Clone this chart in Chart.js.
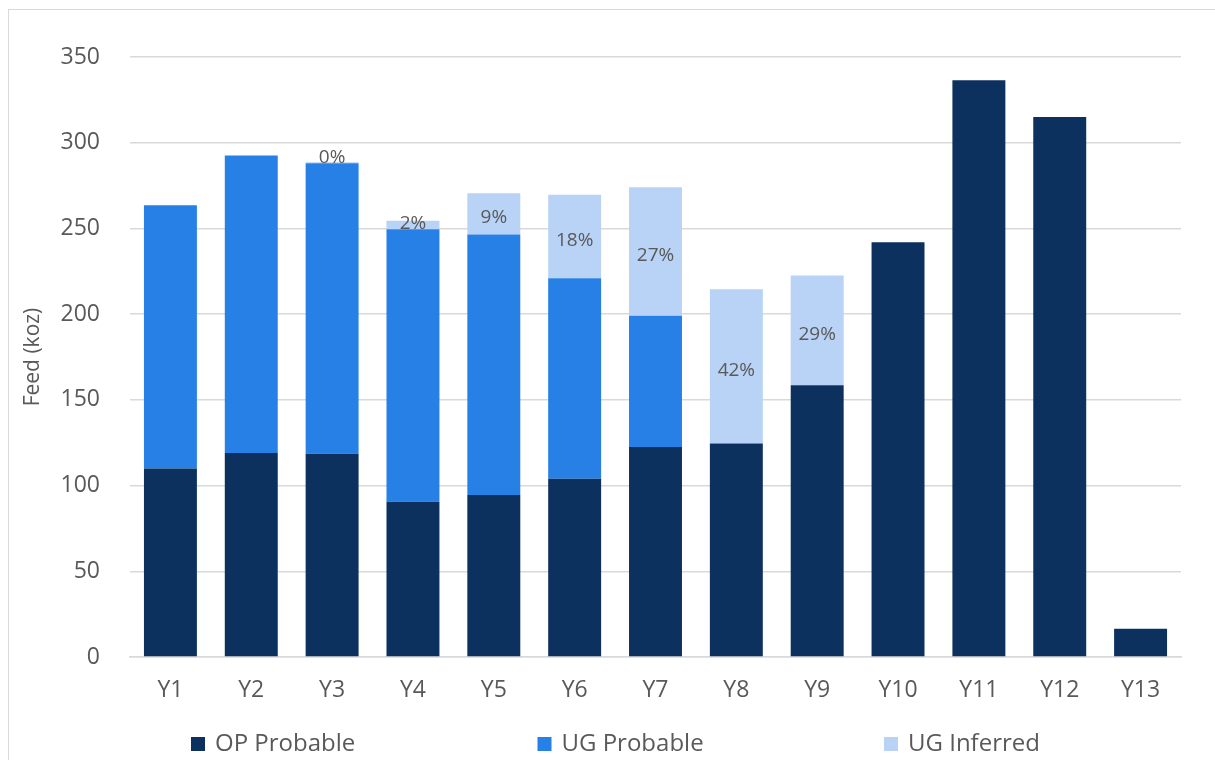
<!DOCTYPE html>
<html>
<head>
<meta charset="utf-8">
<script src="https://cdn.jsdelivr.net/npm/chart.js@4/dist/chart.umd.min.js"></script>
<style>
  html, body { margin: 0; padding: 0; background: #ffffff; }
  #wrap { position: relative; width: 1215px; height: 760px; }
  #frame { position: absolute; left: 8px; top: 9px; right: -2px; bottom: -2px;
           border-left: 1px solid #d9d9d9; border-top: 1px solid #d9d9d9; pointer-events: none; }
  canvas { position: absolute; left: 0; top: 0; }
</style>
</head>
<body>
<div id="wrap">
  <canvas id="chart" width="1215" height="760"></canvas>
  <div id="frame"></div>
</div>
<script>
// Mill feed by year and source (koz)
const years = ['Y1','Y2','Y3','Y4','Y5','Y6','Y7','Y8','Y9','Y10','Y11','Y12','Y13'];
const opProbable = [110, 119, 118.5, 90.5, 94.5, 104, 122.5, 124.5, 158.5, 242, 336.5, 315, 16.5];
const ugProbable = [153.5, 173.5, 169.5, 159, 152, 117, 76.5, 0, 0, 0, 0, 0, 0];
const ugInferred = [0, 0, 0.6, 5, 24, 48.7, 75, 90, 64, 0, 0, 0, 0];
const yTicks = [0, 50, 100, 150, 200, 250, 300, 350];

const seriesNames = ['OP Probable', 'UG Probable', 'UG Inferred'];
const seriesColors = ['#0d315e', '#2680e6', '#b8d3f5'];

const FONT = '"Open Sans", "Noto Sans", sans-serif';
const GREY = '#595959';

// Share of UG Inferred in each year's total, written inside its segment
const inferredShareLabels = {
  id: 'inferredShareLabels',
  afterDatasetsDraw(chart) {
    const ctx = chart.ctx;
    const meta = chart.getDatasetMeta(2);
    ctx.save();
    ctx.font = '19px ' + FONT;
    ctx.fillStyle = GREY;
    ctx.textAlign = 'center';
    ctx.textBaseline = 'middle';
    meta.data.forEach((bar, i) => {
      const inf = ugInferred[i];
      if (!inf) return;
      const total = opProbable[i] + ugProbable[i] + inf;
      const pct = Math.round(inf / total * 100);
      const { x, y, base } = bar.getProps(['x', 'y', 'base'], true);
      let cy = (y + base) / 2 + 4;
      if (base - y < 4) cy = y - 5;
      else if (base - y < 14) cy = (y + base) / 2 - 1;
      ctx.fillText(pct + '%', x, cy);
    });
    ctx.restore();
  }
};

// Legend row along the bottom, evenly spaced
const bottomLegend = {
  id: 'bottomLegend',
  afterDraw(chart) {
    const ctx = chart.ctx;
    ctx.save();
    ctx.font = '24px ' + FONT;
    ctx.textBaseline = 'middle';
    ctx.textAlign = 'left';
    const startX = 191, step = 346.5, cy = 744;
    chart.data.datasets.forEach((ds, i) => {
      const x = startX + i * step;
      ctx.fillStyle = ds.backgroundColor;
      ctx.fillRect(x, cy - 7, 14, 14);
      ctx.fillStyle = GREY;
      ctx.fillText(ds.label, x + 24, cy);
    });
    ctx.restore();
  }
};

const values = [opProbable, ugProbable, ugInferred];

new Chart(document.getElementById('chart'), {
  type: 'bar',
  data: {
    labels: years,
    datasets: values.map((v, i) => ({
      label: seriesNames[i],
      data: v,
      backgroundColor: seriesColors[i],
      borderWidth: 0,
      barPercentage: 0.655,
      categoryPercentage: 1.0
    }))
  },
  options: {
    responsive: false,
    animation: false,
    devicePixelRatio: 1,
    layout: { padding: { left: 0, right: 34, top: 57, bottom: 0 } },
    plugins: {
      legend: { display: false },
      tooltip: { enabled: false }
    },
    scales: {
      x: {
        stacked: true,
        grid: { display: false, drawTicks: false },
        border: { display: true, color: '#d9d9d9', width: 1.5 },
        ticks: { color: GREY, font: { family: FONT, size: 23 }, padding: 20 },
        afterFit(scale) { scale.height = 103; }
      },
      y: {
        stacked: true,
        min: 0,
        max: 350,
        afterBuildTicks(scale) { scale.ticks = yTicks.map(v => ({ value: v })); },
        grid: { color: '#d9d9d9', lineWidth: 1.5, drawTicks: false },
        border: { display: false },
        ticks: { color: GREY, font: { family: FONT, size: 23 }, padding: 30 },
        title: {
          display: true,
          text: 'Feed (koz)',
          color: GREY,
          font: { family: FONT, size: 21 },
          padding: { top: 20, bottom: 0 }
        },
        afterFit(scale) { scale.width = 130; }
      }
    }
  },
  plugins: [inferredShareLabels, bottomLegend]
});
</script>
</body>
</html>
